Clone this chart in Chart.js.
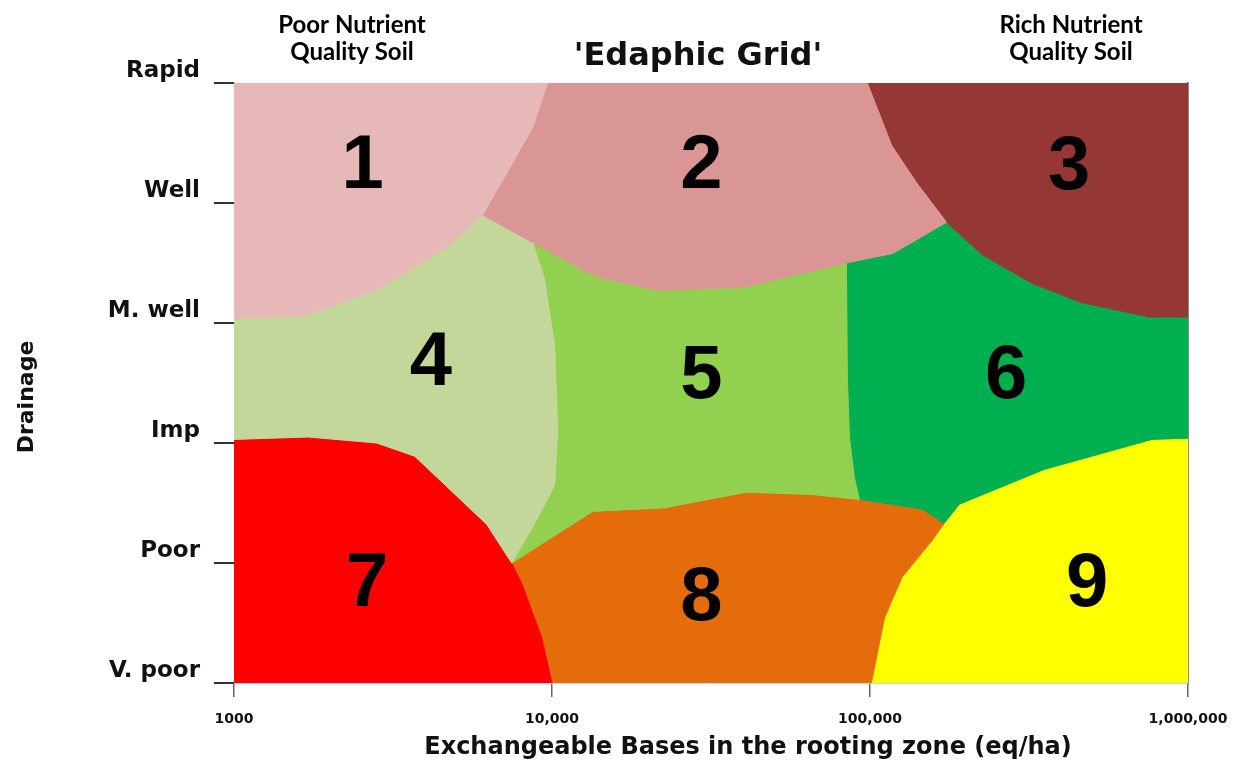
<!DOCTYPE html>
<html>
<head>
<meta charset="utf-8">
<script src="https://cdn.jsdelivr.net/npm/chart.js@4.4.1/dist/chart.umd.min.js"></script>
<style>
  html, body { margin: 0; padding: 0; background: #fff; }
  #wrap { width: 1246px; height: 765px; }
</style>
</head>
<body>
<div id="wrap"><canvas id="grid" width="1246" height="765"></canvas></div>
<script>
// Edaphic grid: drainage classes vs exchangeable bases (eq/ha, log scale)

const yTickLabels = ['V. poor', 'Poor', 'Imp', 'M. well', 'Well', 'Rapid'];
const xTickValues = [1000, 10000, 100000, 1000000];
const xTickLabels = ['1000', '10,000', '100,000', '1,000,000'];

const zoneNames = ['1', '2', '3', '4', '5', '6', '7', '8', '9'];
const zoneColors = ['#E6B8B7', '#DA9694', '#953735', '#C4D79B', '#92D050',
                    '#00B050', '#FF0000', '#E46C0A', '#FFFF00'];

// label anchor of each zone number (x in eq/ha, y in drainage class units)
const labelX = [2540, 29500, 423000, 4160, 29500, 268000, 2620, 29500, 482000];
const labelY = [4.30, 4.30, 4.29, 2.66, 2.55, 2.55, 0.82, 0.70, 0.82];

// zone outlines, [eq/ha, drainage]
const zone1 = [[1000, 5], [9690, 5], [8700, 4.63], [6060, 3.90], [4540, 3.61],
  [2830, 3.28], [1670, 3.06], [1000, 3.04]];
const zone2 = [[9690, 5], [98100, 5], [117000, 4.48], [140000, 4.17], [174000, 3.84],
  [118000, 3.58], [84300, 3.50], [40300, 3.30], [21800, 3.27], [14120, 3.38],
  [12950, 3.42], [8700, 3.67], [6060, 3.90], [8700, 4.63]];
const zone3 = [[98100, 5], [1000000, 5], [1000000, 3.05], [755000, 3.05], [462000, 3.17],
  [324000, 3.33], [225000, 3.57], [174000, 3.84], [140000, 4.17], [117000, 4.48]];
const zone4 = [[1000, 3.04], [1670, 3.06], [2830, 3.28], [4540, 3.61], [6060, 3.90],
  [8700, 3.67], [9490, 3.36], [10200, 2.80], [10420, 2.11], [10200, 1.65],
  [8820, 1.33], [7470, 1.00], [6240, 1.32], [3700, 1.89], [2810, 2.00],
  [1710, 2.05], [1000, 2.03]];
const zone5 = [[8700, 3.67], [12950, 3.42], [14120, 3.38], [21800, 3.27], [40300, 3.30],
  [84300, 3.50], [84900, 2.53], [86200, 2.04], [89300, 1.71], [92600, 1.53],
  [65900, 1.57], [40900, 1.59], [22600, 1.46], [13430, 1.43], [7470, 1.00],
  [8820, 1.33], [10200, 1.65], [10420, 2.11], [10200, 2.80], [9490, 3.36]];
const zone6 = [[84300, 3.50], [118000, 3.58], [174000, 3.84], [225000, 3.57], [324000, 3.33],
  [462000, 3.17], [755000, 3.05], [1000000, 3.05], [1000000, 2.04], [771000, 2.03],
  [353000, 1.78], [191000, 1.49], [171000, 1.33], [146000, 1.45], [92600, 1.53],
  [89300, 1.71], [86200, 2.04], [84900, 2.53]];
const zone7 = [[1000, 2.03], [1710, 2.05], [2810, 2.00], [3700, 1.89], [6240, 1.32],
  [7470, 1.00], [8030, 0.83], [9280, 0.38], [10000, 0], [1000, 0]];
const zone8 = [[7470, 1.00], [13430, 1.43], [22600, 1.46], [40900, 1.59], [65900, 1.57],
  [92600, 1.53], [146000, 1.45], [171000, 1.33], [157000, 1.19], [126000, 0.88],
  [111000, 0.54], [101000, 0], [10000, 0], [9280, 0.38], [8030, 0.83]];
const zone9 = [[171000, 1.33], [191000, 1.49], [353000, 1.78], [771000, 2.03], [1000000, 2.04],
  [1000000, 0], [101000, 0], [111000, 0.54], [126000, 0.88], [157000, 1.19]];

const zones = [zone1, zone2, zone3, zone4, zone5, zone6, zone7, zone8, zone9];

const datasets = zones.map((pts, i) => ({
  label: zoneNames[i],
  data: pts.concat([pts[0]]).map(p => ({ x: p[0], y: p[1] })),
  showLine: true,
  fill: 'shape',
  backgroundColor: zoneColors[i],
  borderColor: zoneColors[i],
  borderWidth: 1,
  pointRadius: 0,
  pointHoverRadius: 0,
  tension: 0
}));

// zone numbers, headers and axis titles
const textLayer = {
  id: 'textLayer',
  afterDatasetsDraw(chart) {
    const { ctx, scales: { x, y } } = chart;
    ctx.save();
    ctx.fillStyle = '#000';
    ctx.textAlign = 'center';
    ctx.textBaseline = 'middle';
    ctx.font = 'bold 76px "Liberation Sans", Arial, sans-serif';
    zoneNames.forEach((n, i) => {
      ctx.fillText(n, x.getPixelForValue(labelX[i]), y.getPixelForValue(labelY[i]));
    });
    ctx.restore();
  },
  afterDraw(chart) {
    const ctx = chart.ctx;
    ctx.save();
    ctx.fillStyle = '#000';
    ctx.textAlign = 'center';
    ctx.textBaseline = 'alphabetic';

    ctx.font = 'bold 24px Lato, "Open Sans", sans-serif';
    ctx.fillText('Poor Nutrient', 352, 33);
    ctx.fillText('Quality Soil', 352, 60);
    ctx.fillText('Rich Nutrient', 1071, 33);
    ctx.fillText('Quality Soil', 1071, 60);

    ctx.fillStyle = '#111';
    ctx.font = 'bold 32px "DejaVu Sans", sans-serif';
    ctx.fillText("'Edaphic Grid'", 698, 65);

    ctx.textBaseline = 'middle';
    ctx.font = 'bold 24px "DejaVu Sans", sans-serif';
    ctx.fillText('Exchangeable Bases in the rooting zone (eq/ha)', 748, 748);

    ctx.font = 'bold 22px "DejaVu Sans", sans-serif';
    ctx.translate(27, 397);
    ctx.rotate(-Math.PI / 2);
    ctx.fillText('Drainage', 0, 0);
    ctx.restore();
  }
};

new Chart(document.getElementById('grid'), {
  type: 'scatter',
  data: { datasets },
  plugins: [textLayer],
  options: {
    responsive: false,
    animation: false,
    events: [],
    layout: { padding: { top: 83, right: 58, left: 0, bottom: 0 } },
    plugins: {
      legend: { display: false },
      tooltip: { enabled: false },
      title: { display: false }
    },
    scales: {
      x: {
        type: 'logarithmic',
        min: 1000,
        max: 1000000,
        afterBuildTicks: s => { s.ticks = xTickValues.map(v => ({ value: v })); },
        afterFit: s => { s.height = 82; },
        ticks: {
          autoSkip: false,
          maxRotation: 0,
          padding: 14,
          color: '#111',
          font: { family: 'DejaVu Sans', weight: 'bold', size: 14 },
          callback: v => xTickLabels[xTickValues.indexOf(v)]
        },
        grid: { drawOnChartArea: false, tickLength: 14, color: '#666', lineWidth: 1.5 },
        border: { color: '#cfcfcf', width: 1 }
      },
      y: {
        type: 'linear',
        min: 0,
        max: 5,
        afterFit: s => { s.width = 234; },
        ticks: {
          stepSize: 1,
          padding: 14,
          labelOffset: -12,
          color: '#111',
          font: { family: 'DejaVu Sans', weight: 'bold', size: 23 },
          callback: v => yTickLabels[v]
        },
        grid: { drawOnChartArea: false, tickLength: 20, color: '#333', lineWidth: 2 },
        border: { display: false }
      },
      y2: {
        type: 'linear',
        position: 'right',
        min: 0,
        max: 5,
        afterFit: s => { s.width = 0; },
        ticks: { display: false },
        grid: { display: false },
        border: { color: '#8a8a8a', width: 2 }
      }
    }
  }
});
</script>
</body>
</html>
